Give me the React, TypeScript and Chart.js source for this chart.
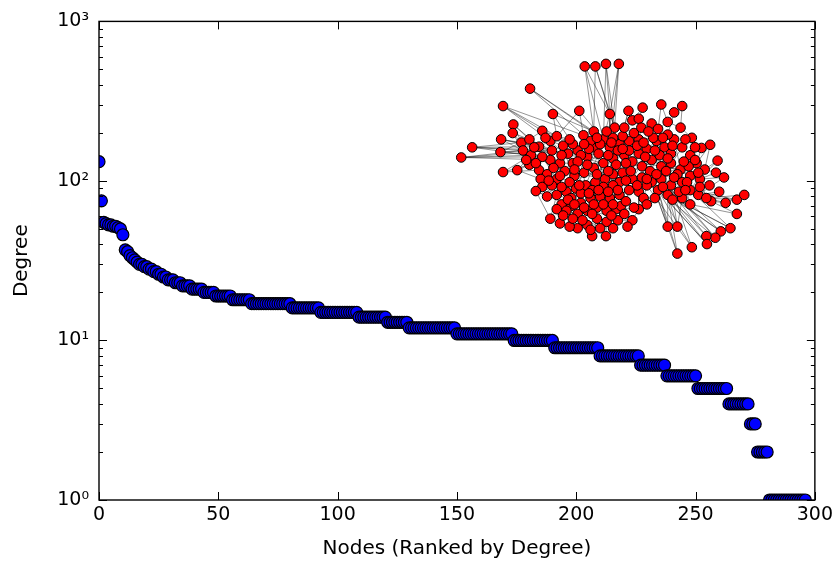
import React, { useEffect, useRef } from 'react';
import { Chart, registerables } from 'chart.js';

Chart.register(...registerables);

// ---- Degree-rank data ----
// degrees of the first 49 ranked nodes (ranks 0..48)
const topRankDegrees = [
  132, 75, 55, 54, 53, 53, 52, 52, 51, 50,
  46, 37, 36, 34, 33, 32, 31, 30, 30, 29,
  29, 28, 28, 27, 27, 26, 26, 25, 25, 24,
  24, 24, 23, 23, 23, 22, 22, 22, 22, 21,
  21, 21, 21, 21, 20, 20, 20, 20, 20,
];
// remaining nodes: plateaus of equal degree and how many nodes are on each
const plateauDegrees = [19, 18, 17, 16, 15, 14, 13, 12, 11, 10, 9, 8, 7, 6, 5, 4, 3, 2, 1];
const plateauCounts = [7, 8, 17, 12, 16, 12, 9, 20, 24, 17, 19, 17, 11, 13, 13, 9, 3, 5, 16];

const xTickValues = [0, 50, 100, 150, 200, 250, 300];
const yMajorTicks = [1, 10, 100, 1000];
const yTickLabels = ['10\u2070', '10\u00B9', '10\u00B2', '10\u00B3'];
const yMinorMultipliers = [2, 3, 4, 5, 6, 7, 8, 9];

const xAxisTitle = 'Nodes (Ranked by Degree)';
const yAxisTitle = 'Degree';

// ---- Inset network layout (layout units, y grows downward) ----
const netNodes: [number, number][] = [
  [43.2, 6.5], [46.5, 6.5], [49.8, 5.7], [53.8, 5.7], [26.2, 13.5], [17.8, 19.0], [33.3, 21.5], [41.5, 20.5], [51.0, 21.5], [56.8, 20.5],
  [61.2, 19.5], [67.0, 18.5], [73.5, 19.0], [71.0, 21.0], [21.0, 24.8], [20.8, 27.5], [30.0, 26.8], [17.2, 29.5], [8.2, 32.0], [4.8, 35.2],
  [17.0, 33.5], [17.8, 39.8], [22.2, 39.2], [29.0, 39.2], [26.0, 37.5], [76.5, 29.0], [82.2, 31.2], [79.5, 32.2], [84.5, 36.2], [84.0, 40.0],
  [86.5, 41.5], [82.0, 44.0], [85.0, 46.0], [82.5, 49.0], [87.0, 49.5], [90.5, 48.5], [92.8, 47.0], [90.5, 53.0], [88.5, 57.5], [85.5, 58.5],
  [83.8, 60.5], [81.0, 60.0], [81.2, 62.5], [76.5, 63.5], [72.0, 65.5], [69.0, 57.0], [72.0, 57.0], [45.5, 60.0], [49.8, 60.0], [32.5, 54.5],
  [35.5, 56.0], [23.5, 30.5], [26.0, 29.5], [24.0, 33.0], [26.5, 34.5], [29.0, 31.8], [32.5, 30.0], [34.5, 28.5], [33.0, 33.0], [38.0, 34.0],
  [41.0, 33.0], [44.0, 35.0], [46.0, 32.0], [49.0, 29.5], [51.0, 32.0], [54.0, 31.0], [57.0, 30.0], [60.0, 29.5], [62.5, 32.5], [65.5, 30.0],
  [68.0, 32.0], [71.0, 29.5], [73.5, 32.0], [76.0, 34.5], [78.0, 37.0], [80.5, 39.0], [79.0, 42.0], [76.0, 41.0], [73.0, 39.0], [70.0, 37.0],
  [67.0, 38.0], [64.0, 36.0], [61.0, 38.0], [58.0, 36.5], [55.5, 34.5], [52.0, 35.5], [49.0, 37.0], [46.0, 38.5], [43.0, 40.0], [40.0, 41.0],
  [37.0, 39.5], [34.5, 42.0], [31.5, 40.5], [29.5, 42.0], [30.0, 44.5], [28.0, 45.8], [34.5, 47.0], [37.5, 46.0], [40.5, 45.0], [43.5, 44.0],
  [46.5, 43.0], [49.5, 42.0], [52.0, 40.5], [55.0, 40.0], [58.0, 42.0], [61.0, 41.5], [64.0, 43.0], [67.0, 42.0], [70.0, 44.0], [73.5, 43.0],
  [76.0, 45.5], [78.5, 47.0], [81.0, 48.0], [69.0, 47.0], [66.0, 45.5], [62.5, 44.0], [60.0, 46.0], [57.0, 45.5], [54.0, 47.0], [51.0, 48.0],
  [48.0, 47.5], [45.0, 48.0], [42.0, 49.5], [39.0, 50.5], [36.0, 50.0], [34.5, 51.5], [37.5, 52.0], [41.0, 53.0], [44.0, 52.0], [47.0, 51.0],
  [50.0, 52.0], [53.0, 51.5], [54.5, 50.5], [60.0, 51.5], [58.0, 55.0], [53.5, 55.0], [50.0, 55.5], [47.0, 54.5], [44.0, 56.5], [41.0, 57.5],
  [38.5, 57.0], [48.0, 57.5], [56.0, 49.0], [73.5, 48.0], [76.0, 50.0], [61.5, 48.0], [42.0, 34.5], [39.5, 37.0], [35.5, 37.0], [32.5, 36.0],
  [30.0, 35.0], [45.0, 30.0], [47.5, 34.0], [50.5, 34.5], [53.5, 33.0], [57.0, 33.0], [60.0, 34.0], [63.5, 39.5], [66.5, 34.5], [70.0, 34.0],
  [72.0, 40.5], [75.5, 38.0], [64.5, 29.0], [58.5, 27.5], [55.0, 28.5], [52.0, 29.0], [46.0, 27.0], [39.5, 31.0], [36.5, 31.5], [44.0, 37.5],
  [47.0, 40.5], [50.5, 39.5], [54.0, 43.0], [57.5, 39.5], [52.0, 44.0], [49.0, 44.5], [45.5, 45.5], [42.0, 46.5], [39.0, 48.0], [36.0, 44.5],
  [33.0, 44.0], [42.8, 28.2], [52.5, 25.8], [55.5, 25.8], [58.0, 23.5], [60.0, 23.0], [60.8, 25.8], [64.0, 24.5], [66.0, 26.2], [69.0, 24.0],
  [73.0, 25.8], [69.0, 28.0], [27.5, 32.0], [31.0, 29.0], [28.0, 37.0], [25.0, 36.0], [33.5, 38.5], [36.0, 34.5], [38.5, 29.5], [41.0, 36.5],
  [44.5, 32.5], [48.0, 31.0], [50.0, 27.0], [53.0, 37.5], [56.0, 37.0], [59.5, 31.5], [62.0, 35.0], [63.0, 27.0], [67.5, 29.0], [70.5, 31.5],
  [74.5, 29.5], [77.5, 32.0], [78.5, 40.0], [75.0, 43.0], [72.5, 46.0], [71.0, 41.5], [68.5, 39.5], [65.5, 40.5], [62.5, 42.0], [59.5, 44.0],
  [56.0, 42.5], [53.5, 45.5], [50.5, 46.0], [47.5, 45.5], [44.5, 46.5], [41.5, 44.0], [38.5, 43.0], [35.5, 41.0], [32.0, 42.5], [31.5, 47.5],
  [38.0, 48.5], [40.0, 50.0], [43.0, 51.0], [46.0, 50.0], [49.0, 50.0], [52.0, 50.0], [51.5, 53.5], [55.5, 53.0], [45.5, 53.0], [42.5, 55.0],
  [39.5, 54.5], [36.5, 53.5], [45.0, 58.0], [52.0, 57.5], [56.5, 57.0], [58.5, 51.0], [62.5, 50.0], [65.0, 48.0], [67.5, 44.5], [70.5, 48.5],
  [74.5, 45.5], [79.0, 44.5], [77.5, 36.0], [74.0, 36.5], [69.0, 35.5], [65.0, 33.0], [61.5, 30.5], [55.0, 32.5], [51.5, 30.5], [47.0, 29.0],
  [43.0, 31.0], [40.0, 39.0],
];

const netEdges: [number, number][] = [
  [0, 8], [0, 166], [0, 63], [1, 8], [1, 166], [1, 182], [2, 63], [2, 182], [2, 8], [3, 182], [3, 8], [3, 64],
  [4, 166], [4, 63], [4, 151], [5, 181], [5, 57], [5, 56], [5, 16], [6, 57], [6, 166], [6, 167],
  [7, 181], [7, 63], [7, 57], [8, 182], [8, 63], [8, 64], [9, 183], [9, 65], [10, 184], [10, 185],
  [11, 189], [11, 188], [12, 190], [12, 13], [13, 189], [13, 191], [14, 51], [14, 52], [14, 55],
  [15, 51], [15, 52], [15, 53], [16, 52], [16, 56], [16, 57], [17, 51], [17, 53], [17, 55], [17, 58],
  [18, 51], [18, 53], [18, 55], [18, 58], [18, 150], [19, 53], [19, 54], [19, 150], [19, 58], [19, 149],
  [20, 53], [20, 51], [20, 54], [21, 54], [21, 24], [21, 23], [22, 24], [22, 54], [22, 93], [23, 92], [23, 150],
  [24, 54], [24, 150], [25, 73], [25, 72], [25, 190], [26, 74], [26, 75], [26, 27], [27, 73], [27, 74],
  [28, 75], [28, 76], [29, 75], [29, 76], [30, 76], [30, 111], [31, 76], [31, 110], [32, 111], [32, 112],
  [33, 112], [33, 111], [34, 112], [34, 33], [35, 112], [35, 110], [36, 112], [36, 34], [37, 111], [37, 144],
  [38, 110], [38, 113], [38, 114], [39, 113], [39, 108], [39, 106], [40, 108], [40, 114], [40, 107], [41, 113], [41, 107],
  [42, 113], [42, 114], [42, 106], [43, 108], [43, 114], [43, 115], [44, 106], [44, 113], [44, 114],
  [45, 113], [45, 114], [45, 106], [46, 113], [46, 143], [46, 108],
  [47, 138], [47, 137], [47, 141], [48, 141], [48, 136], [48, 135], [49, 125], [49, 95], [49, 96],
  [50, 125], [50, 124], [50, 140],
  [51, 52], [51, 53], [52, 55], [53, 54], [54, 55], [55, 56], [56, 57], [55, 58], [58, 59], [56, 168], [57, 167],
  [59, 60], [60, 61], [61, 62], [62, 63], [63, 64], [64, 65], [65, 66], [66, 67], [67, 68], [68, 69], [69, 70],
  [70, 71], [71, 72], [72, 73], [73, 74], [74, 75], [75, 76], [76, 77], [77, 78], [78, 79], [79, 80], [80, 81],
  [81, 82], [82, 83], [83, 84], [84, 85], [85, 86], [86, 87], [87, 88], [88, 89], [89, 90], [90, 91], [91, 92],
  [92, 93], [93, 94], [94, 95], [94, 96], [96, 97], [97, 98], [98, 99], [99, 100], [100, 101], [101, 102],
  [102, 103], [103, 104], [104, 105], [105, 106], [106, 107], [107, 108], [108, 109], [109, 110], [110, 111],
  [111, 112], [108, 113], [113, 114], [114, 115], [115, 116], [116, 117], [117, 118], [118, 119], [119, 120],
  [120, 121], [121, 122], [122, 123], [123, 124], [124, 125], [125, 126], [126, 127], [127, 128], [128, 129],
  [129, 130], [130, 131], [131, 132], [132, 142], [142, 133], [133, 134], [134, 135], [135, 136], [136, 137],
  [137, 138], [138, 139], [139, 140], [141, 137], [143, 144], [143, 109], [145, 116], [145, 133], [146, 60],
  [146, 147], [147, 148], [148, 149], [149, 150], [150, 53], [151, 62], [151, 63], [152, 153], [153, 154],
  [154, 155], [155, 156], [156, 157], [157, 158], [158, 159], [159, 160], [160, 161], [161, 74], [162, 69],
  [162, 67], [163, 164], [164, 165], [165, 63], [166, 151], [167, 168], [168, 58], [169, 152], [170, 171],
  [171, 172], [172, 173], [174, 175], [175, 176], [176, 177], [177, 178], [178, 179], [179, 180], [181, 151],
  [182, 183], [183, 184], [184, 185], [185, 186], [186, 187], [187, 188], [188, 189], [189, 190], [191, 71],
  [191, 162], [186, 67], [183, 66], [182, 64],
  [59, 84], [60, 85], [61, 82], [62, 66], [64, 68], [65, 70], [86, 104], [87, 105], [88, 106], [89, 103],
  [90, 101], [91, 100], [98, 118], [99, 119], [100, 131], [101, 115], [102, 116], [97, 121], [96, 122],
  [95, 123], [104, 109], [105, 111], [80, 110], [81, 77], [83, 78], [84, 79], [53, 59], [54, 90], [55, 89],
  [56, 88], [57, 87], [58, 86], [150, 91], [149, 92], [148, 93], [147, 94], [146, 97], [169, 98], [152, 99],
  [153, 170], [154, 171], [155, 172], [156, 173], [157, 174], [158, 175], [159, 176], [160, 177], [161, 178],
  [63, 85], [64, 86], [65, 87], [66, 88], [67, 89], [68, 103], [69, 104], [70, 105], [71, 106], [72, 107],
  [73, 108], [74, 109], [75, 110], [76, 112], [77, 143], [78, 144], [118, 130], [119, 131], [120, 132],
  [121, 135], [122, 136], [123, 137], [124, 138], [125, 139], [126, 140], [127, 141], [128, 134], [129, 133],
  [117, 142], [116, 133], [115, 145], [114, 143], [113, 144],
  [192, 55], [192, 52], [193, 56], [193, 55], [194, 150], [194, 24], [195, 54], [195, 24], [196, 148], [196, 90],
  [197, 148], [197, 59], [198, 167], [198, 57], [199, 147], [199, 146], [200, 62], [200, 61], [201, 63], [201, 62],
  [202, 63], [202, 182], [203, 85], [203, 171], [204, 83], [204, 84], [205, 67], [205, 156], [206, 81], [206, 68],
  [207, 162], [207, 186], [208, 69], [208, 191], [209, 70], [209, 71], [210, 72], [210, 25], [211, 73], [211, 27],
  [212, 75], [212, 76], [213, 109], [213, 77], [214, 143], [214, 108], [215, 160], [215, 108], [216, 79], [216, 80],
  [217, 157], [217, 107], [218, 105], [218, 115], [219, 104], [219, 116], [220, 172], [220, 103], [221, 174], [221, 118],
  [222, 175], [222, 119], [223, 176], [223, 120], [224, 177], [224, 121], [225, 98], [225, 99], [226, 97], [226, 89],
  [227, 91], [227, 90], [228, 180], [228, 92], [229, 96], [229, 95], [230, 178], [230, 123], [231, 122], [231, 123],
  [232, 128], [232, 127], [233, 129], [233, 121], [234, 130], [234, 120], [235, 131], [235, 119], [236, 130], [236, 135],
  [237, 134], [237, 132], [238, 137], [238, 128], [239, 138], [239, 127], [240, 126], [240, 140], [241, 126], [241, 125],
  [242, 138], [242, 47], [243, 135], [243, 48], [244, 134], [244, 135], [245, 133], [245, 142], [246, 145], [246, 133],
  [247, 114], [247, 145], [248, 107], [248, 113], [249, 113], [249, 143], [250, 109], [250, 110], [251, 111], [251, 76],
  [252, 74], [252, 161], [253, 73], [253, 78], [254, 159], [254, 79], [255, 158], [255, 68], [256, 67], [256, 68],
  [257, 65], [257, 154], [258, 64], [258, 165], [259, 63], [259, 166], [260, 60], [260, 151], [261, 89], [261, 147],
  [60, 99], [62, 101], [66, 104], [70, 107], [84, 117], [85, 119], [86, 121], [82, 115], [79, 113], [88, 124],
  [57, 89], [59, 98], [61, 100], [63, 102], [65, 84], [67, 82], [69, 80], [71, 78], [52, 58], [53, 92],
];

const FONT = "'DejaVu Sans', 'Liberation Sans', sans-serif";

function buildDegreePoints() {
  const pts: { x: number; y: number }[] = [];
  topRankDegrees.forEach((d) => pts.push({ x: pts.length, y: d }));
  plateauDegrees.forEach((d, i) => {
    for (let k = 0; k < plateauCounts[i]; k++) pts.push({ x: pts.length, y: d });
  });
  return pts;
}

const framePlugin = {
  id: 'mplFrame',
  afterDatasetsDraw(chart: any) {
    const { ctx, chartArea: a, scales } = chart;
    const xs = scales.x;
    const ys = scales.y;
    ctx.save();
    ctx.strokeStyle = '#000';
    ctx.lineWidth = 1;
    ctx.beginPath();
    const major = 8;
    const minor = 4;
    xTickValues.forEach((v) => {
      const px = Math.round(xs.getPixelForValue(v)) + 0.5;
      ctx.moveTo(px, a.bottom);
      ctx.lineTo(px, a.bottom - major);
      ctx.moveTo(px, a.top);
      ctx.lineTo(px, a.top + major);
    });
    yMajorTicks.forEach((v) => {
      const py = Math.round(ys.getPixelForValue(v)) + 0.5;
      ctx.moveTo(a.left, py);
      ctx.lineTo(a.left + major, py);
      ctx.moveTo(a.right, py);
      ctx.lineTo(a.right - major, py);
    });
    yMajorTicks.slice(0, -1).forEach((base) => {
      yMinorMultipliers.forEach((m) => {
        const py = Math.round(ys.getPixelForValue(base * m)) + 0.5;
        ctx.moveTo(a.left, py);
        ctx.lineTo(a.left + minor, py);
        ctx.moveTo(a.right, py);
        ctx.lineTo(a.right - minor, py);
      });
    });
    ctx.stroke();
    ctx.lineWidth = 1.4;
    ctx.strokeRect(a.left, a.top, a.right - a.left, a.bottom - a.top);
    ctx.restore();
  },
};

export default function App() {
  const mainRef = useRef<HTMLCanvasElement>(null);
  const insetRef = useRef<HTMLCanvasElement>(null);

  useEffect(() => {
    if (!mainRef.current || !insetRef.current) return;
    const points = buildDegreePoints();

    const main = new Chart(mainRef.current, {
      type: 'scatter',
      data: {
        datasets: [
          {
            data: points,
            backgroundColor: '#0000ff',
            borderColor: '#000000',
            borderWidth: 1.2,
            pointRadius: 6,
            pointHoverRadius: 6,
            clip: 0,
          } as any,
        ],
      },
      options: {
        responsive: false,
        animation: false,
        events: [],
        layout: { padding: { left: 0, right: 22, top: 20, bottom: 0 } },
        plugins: { legend: { display: false }, tooltip: { enabled: false } },
        scales: {
          x: {
            type: 'linear',
            min: 0,
            max: 300,
            afterBuildTicks: (s: any) => {
              s.ticks = xTickValues.map((v) => ({ value: v }));
            },
            afterFit: (s: any) => {
              s.height = 67;
            },
            grid: { display: false, drawTicks: false },
            border: { display: false },
            ticks: {
              color: '#000',
              padding: 4,
              maxRotation: 0,
              font: { family: FONT, size: 19 },
            },
            title: {
              display: true,
              text: xAxisTitle,
              color: '#000',
              font: { family: FONT, size: 20 },
              padding: { top: 0, bottom: 6 },
            },
          },
          y: {
            type: 'logarithmic',
            min: 1,
            max: 1000,
            afterBuildTicks: (s: any) => {
              s.ticks = yMajorTicks.map((v) => ({ value: v, major: true }));
            },
            afterFit: (s: any) => {
              s.width = 99;
            },
            grid: { display: false, drawTicks: false },
            border: { display: false },
            ticks: {
              color: '#000',
              padding: 10,
              font: { family: FONT, size: 19 },
              callback: (v: any) => {
                const i = yMajorTicks.indexOf(Number(v));
                return i >= 0 ? yTickLabels[i] : '';
              },
            },
            title: {
              display: true,
              text: yAxisTitle,
              color: '#000',
              font: { family: FONT, size: 20 },
              padding: { top: 10, bottom: 0 },
            },
          },
        },
      },
      plugins: [framePlugin],
    } as any);

    const nodeData = netNodes.map(([x, y]) => ({ x, y }));
    const edgeData: any[] = [];
    netEdges.forEach(([a, b]) => {
      edgeData.push({ x: netNodes[a][0], y: netNodes[a][1] });
      edgeData.push({ x: netNodes[b][0], y: netNodes[b][1] });
      edgeData.push({ x: null, y: null });
    });

    const inset = new Chart(insetRef.current, {
      type: 'scatter',
      data: {
        datasets: [
          {
            data: nodeData,
            backgroundColor: '#ff0000',
            borderColor: '#000000',
            borderWidth: 1,
            pointRadius: 4.8,
            pointHoverRadius: 4.8,
            clip: false,
          } as any,
          {
            data: edgeData,
            showLine: true,
            spanGaps: false,
            pointRadius: 0,
            borderColor: 'rgba(20,20,20,0.5)',
            borderWidth: 0.9,
            clip: false,
          } as any,
        ],
      },
      options: {
        responsive: false,
        animation: false,
        events: [],
        layout: { padding: 0 },
        plugins: { legend: { display: false }, tooltip: { enabled: false } },
        scales: {
          x: { type: 'linear', min: 0, max: 99, display: false },
          y: { type: 'linear', min: 0, max: 72, reverse: true, display: false },
        },
      },
    } as any);

    return () => {
      main.destroy();
      inset.destroy();
    };
  }, []);

  return (
    <div style={{ position: 'absolute', left: 0, top: 0, width: 837, height: 567, background: '#fff' }}>
      <canvas ref={mainRef} width={837} height={567} style={{ position: 'absolute', left: 0, top: 0 }} />
      <canvas ref={insetRef} width={330} height={240} style={{ position: 'absolute', left: 440, top: 40 }} />
    </div>
  );
}
